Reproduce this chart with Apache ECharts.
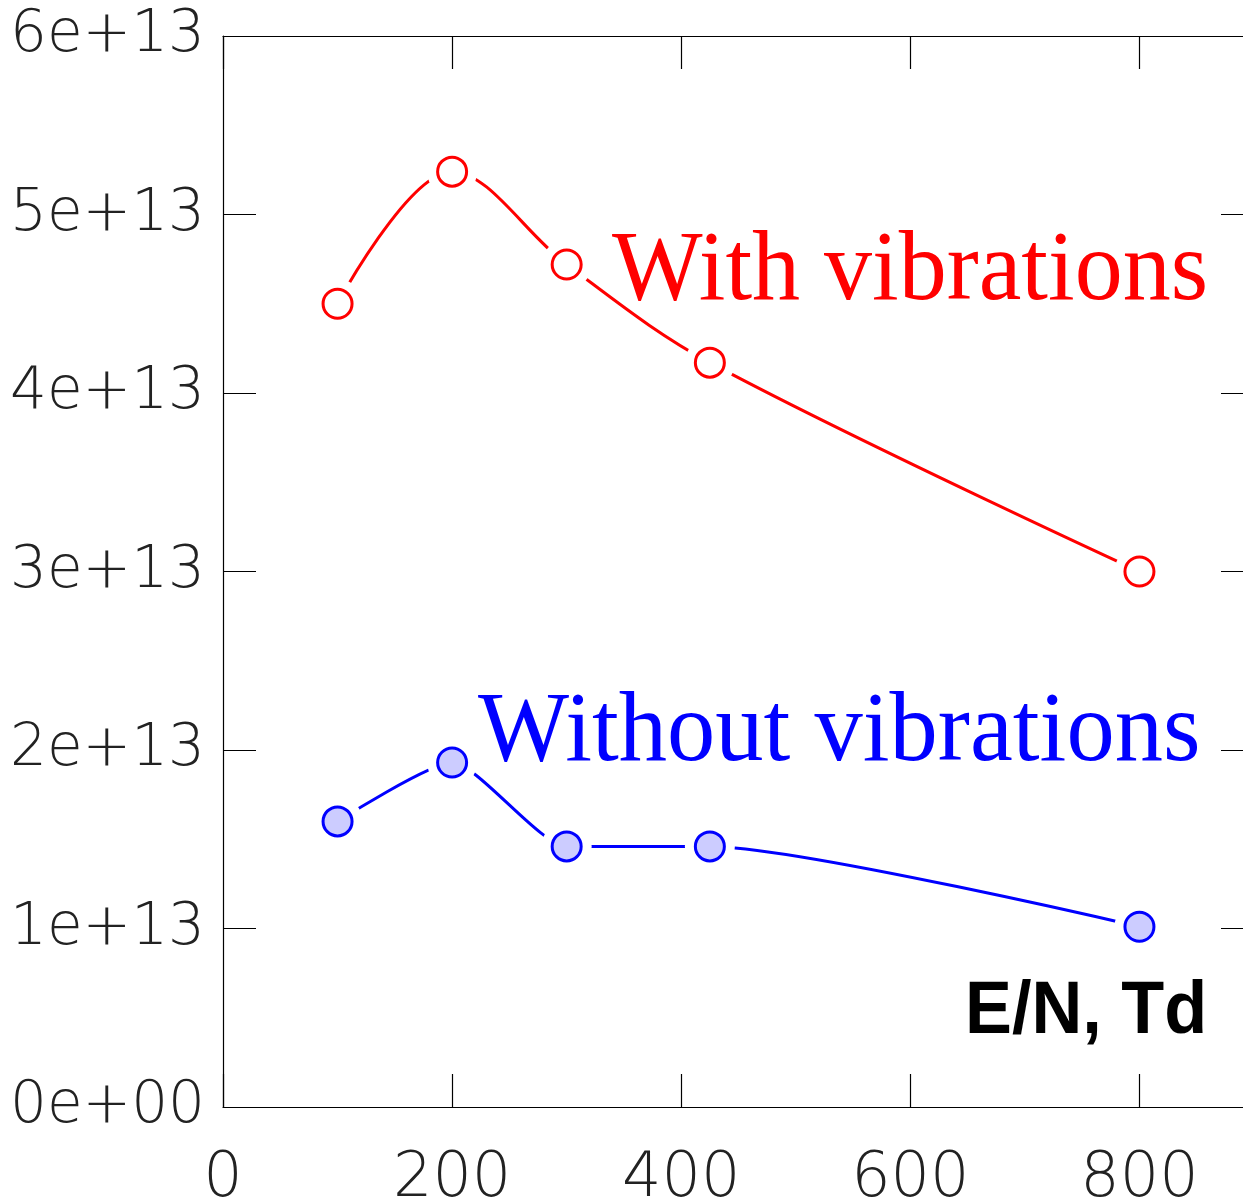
<!DOCTYPE html>
<html><head><meta charset="utf-8">
<script src="https://cdn.jsdelivr.net/npm/echarts@6/dist/echarts.min.js"></script>
<style>html,body{margin:0;padding:0;background:#fff}#c{width:1243px;height:1200px}</style>
</head><body><div id="c"></div>
<script>
const fieldEN = [100, 200, 300, 425, 800];
const withVib = [4.50e13, 5.24e13, 4.72e13, 4.17e13, 3.00e13];
const withoutVib = [1.60e13, 1.93e13, 1.46e13, 1.46e13, 1.01e13];
const yTickLabels = ['0e+00', '1e+13', '2e+13', '3e+13', '4e+13', '5e+13', '6e+13'];
const xTickLabels = ['0', '200', '400', '600', '800'];

const zip = (xs, ys) => xs.map((x, i) => [x, ys[i]]);
const redPts = zip(fieldEN, withVib);
const bluePts = zip(fieldEN, withoutVib);

const tickFontY = { fontFamily: "'DejaVu Sans', sans-serif", fontWeight: 200, fontSize: 58, color: '#222' };
const tickFontX = { fontFamily: "'DejaVu Sans', sans-serif", fontWeight: 200, fontSize: 62, color: '#222' };
const axisLineStyle = { color: '#000', width: 1.2 };

const chart = echarts.init(document.getElementById('c'), null, { renderer: 'canvas' });
chart.setOption({
  backgroundColor: '#fff',
  animation: false,
  grid: { left: 223, top: 36, width: 1031, height: 1071, containLabel: false, outerBoundsMode: 'none' },
  xAxis: [
    { type: 'value', position: 'bottom', min: 0, max: 900, interval: 200,
      axisLine: { show: true, lineStyle: axisLineStyle },
      axisTick: { show: true, inside: true, length: 33, lineStyle: axisLineStyle },
      axisLabel: Object.assign({ margin: 42, showMaxLabel: false,
        formatter: v => (v % 200 === 0 && xTickLabels[v / 200] !== undefined) ? xTickLabels[v / 200] : '' }, tickFontX),
      splitLine: { show: false } },
    { type: 'value', position: 'top', min: 0, max: 900, interval: 200,
      axisLine: { show: true, onZero: false, lineStyle: axisLineStyle },
      axisTick: { show: true, inside: true, length: 33, lineStyle: axisLineStyle },
      axisLabel: { show: false }, splitLine: { show: false } }
  ],
  yAxis: [
    { type: 'value', position: 'left', min: 0, max: 6e13, interval: 1e13,
      axisLine: { show: true, onZero: false, lineStyle: axisLineStyle },
      axisTick: { show: true, inside: true, length: 33, lineStyle: axisLineStyle },
      axisLabel: Object.assign({ margin: 18,
        formatter: v => yTickLabels[Math.round(v / 1e13)] || '' }, tickFontY),
      splitLine: { show: false } },
    { type: 'value', position: 'right', min: 0, max: 6e13, interval: 1e13,
      axisLine: { show: true, onZero: false, lineStyle: axisLineStyle },
      axisTick: { show: true, inside: true, length: 33, lineStyle: axisLineStyle },
      axisLabel: { show: false }, splitLine: { show: false } }
  ],
  series: [
    { type: 'line', data: redPts, smooth: 0.35, showSymbol: false, z: 2, silent: true,
      lineStyle: { color: '#ff0000', width: 3 } },
    { type: 'line', data: bluePts, smooth: 0.2, showSymbol: false, z: 2, silent: true,
      lineStyle: { color: '#0000ff', width: 3 } },
    { type: 'scatter', data: redPts.concat(bluePts), symbolSize: 50, z: 3, silent: true,
      itemStyle: { color: '#ffffff', opacity: 1 } },
    { type: 'scatter', data: redPts, symbolSize: 29, z: 4, silent: true,
      itemStyle: { color: '#ffffff', borderColor: '#ff0000', borderWidth: 3, opacity: 1 } },
    { type: 'scatter', data: bluePts, symbolSize: 29, z: 4, silent: true,
      itemStyle: { color: '#ccccff', borderColor: '#0000ff', borderWidth: 3, opacity: 1 } }
  ],
  graphic: [
    { type: 'text', x: 612, y: 273, scaleX: 0.96, z: 10, silent: true,
      style: { text: 'With vibrations', fill: '#ff0000', font: "100px 'Liberation Serif', 'Times New Roman', serif",
        textAlign: 'left', textVerticalAlign: 'middle', verticalAlign: 'middle' } },
    { type: 'text', x: 478, y: 734, scaleX: 0.965, z: 10, silent: true,
      style: { text: 'Without vibrations', fill: '#0000ff', font: "100px 'Liberation Serif', 'Times New Roman', serif",
        textAlign: 'left', textVerticalAlign: 'middle', verticalAlign: 'middle' } },
    { type: 'text', x: 965, y: 1013, scaleX: 0.95, z: 10, silent: true,
      style: { text: 'E/N, Td', fill: '#000000', font: "bold 74px 'Liberation Sans', Arial, sans-serif",
        textAlign: 'left', textVerticalAlign: 'middle', verticalAlign: 'middle' } }
  ]
});
</script></body></html>
